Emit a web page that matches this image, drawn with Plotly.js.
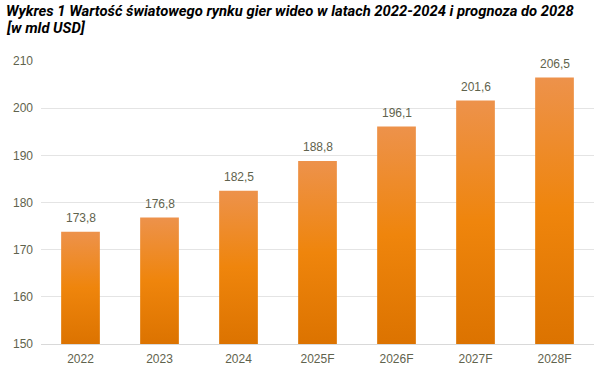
<!DOCTYPE html>
<html><head><meta charset="utf-8">
<script src="https://cdn.plot.ly/plotly-3.0.1.min.js"></script>
<style>body{margin:0;background:#fff}#c{width:598px;height:370px}</style>
</head><body><div id="c"></div>
<script>
const categories = ["2022","2023","2024","2025F","2026F","2027F","2028F"];
const values = [173.8,176.8,182.5,188.8,196.1,201.6,206.5];
const labels = ["173,8","176,8","182,5","188,8","196,1","201,6","206,5"];
const yTicks = [150,160,170,180,190,200,210];
const titleLines = ["Wykres 1 Wartość światowego rynku gier wideo w latach 2022-2024 i prognoza do 2028","[w mld USD]"];

const txt = '#5f634d';
const fnt = 'Liberation Sans, Arial, sans-serif';
const trace = {
  type:'bar', x:categories, y:values,
  marker:{color:'#ee8408', line:{width:0}}, width:0.49, hoverinfo:'none'
};
const annotations = categories.map(function(c,i){
  return {x:i, y:values[i], xref:'x', yref:'y', text:labels[i], showarrow:false,
    yanchor:'bottom', yshift:5, font:{family:fnt, size:12, color:txt}};
});
titleLines.forEach(function(t,i){
  annotations.push({xref:'paper', yref:'paper', x:-37/553, y:1+(50-i*17)/283, xanchor:'left', yanchor:'middle',
    text:'<b><i>'+t+'</i></b>', showarrow:false,
    font:{family:'Roboto, sans-serif', size:14.8, color:'#000'}});
});
const layout = {
  width:598, height:370,
  margin:{l:41,r:4,t:61,b:26},
  paper_bgcolor:'#fff', plot_bgcolor:'#fff',
  showlegend:false, annotations:annotations,
  xaxis:{type:'category', range:[-0.5,6.5], autorange:false, showgrid:false, showline:true, linecolor:'#d9d9d9', linewidth:1,
    ticks:'', ticklabelstandoff:4, tickfont:{family:fnt, size:12, color:txt}},
  yaxis:{range:[150,210], autorange:false, tickvals:yTicks, showgrid:true, gridcolor:'#e4e4e4', zeroline:false,
    showline:false, ticks:'', ticklabelstandoff:7,
    tickfont:{family:fnt, size:12, color:txt}}
};
Plotly.newPlot('c',[trace],layout,{staticPlot:true}).then(function(gd){
  const svg = gd.querySelector('svg.main-svg');
  const ns='http://www.w3.org/2000/svg';
  const defs = svg.querySelector('defs');
  const plotH = gd._fullLayout._size.h;
  gd.querySelectorAll('.bars .point path').forEach(function(p,i){
    const bb = p.getBBox();
    const top = Math.max(bb.y, 0);
    const g = document.createElementNS(ns,'linearGradient');
    g.setAttribute('id','barGrad'+i);
    g.setAttribute('gradientUnits','userSpaceOnUse');
    g.setAttribute('x1','0'); g.setAttribute('x2','0');
    g.setAttribute('y1', String(top)); g.setAttribute('y2', String(plotH));
    [['0','#ed924b'],['0.5','#ef850c'],['1','#dc7300']].forEach(function(s){
      const st=document.createElementNS(ns,'stop');
      st.setAttribute('offset',s[0]); st.setAttribute('stop-color',s[1]); g.appendChild(st);
    });
    defs.appendChild(g);
    p.style.fill='url(#barGrad'+i+')'; p.style.fillOpacity='1';
  });
});
</script></body></html>
